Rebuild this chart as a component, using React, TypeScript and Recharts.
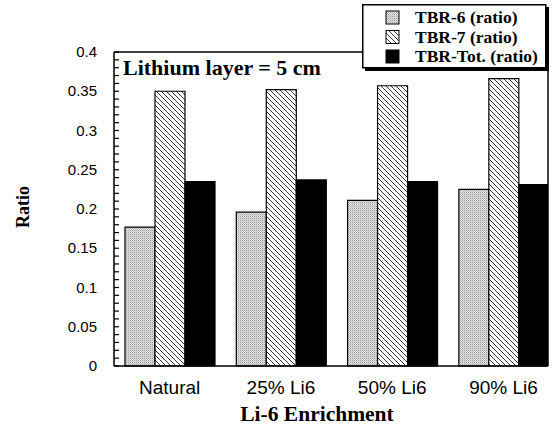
import React from "react";
import {
  BarChart,
  Bar,
  XAxis,
  YAxis,
  ReferenceLine,
  Legend,
} from "recharts";

// Li-6 enrichment cases
const categories = ["Natural", "25% Li6", "50% Li6", "90% Li6"];

// Tritium breeding ratios per case
const tbr6 = [0.177, 0.196, 0.211, 0.225];
const tbr7 = [0.35, 0.352, 0.357, 0.366];
const tbrTot = [0.235, 0.237, 0.235, 0.231];

// Labelled y ticks and grid positions
const yLabels = [0, 0.05, 0.1, 0.15, 0.2, 0.25, 0.3, 0.35, 0.4];
const yGrid = [0.05, 0.1, 0.15, 0.2, 0.25, 0.3, 0.35];
const xGrid = [0.5, 1.5, 2.5];

const seriesNames = ["TBR-6 (ratio)", "TBR-7 (ratio)", "TBR-Tot. (ratio)"];

const data = categories.map((name, i) => ({
  pos: i,
  name,
  tbr6: tbr6[i],
  tbr7: tbr7[i],
  tbrTot: tbrTot[i],
}));

// minor ticks every 0.01 between the labelled ones
const yTicks = Array.from({ length: 41 }, (_, i) => i / 100);

const W = 559;
const H = 429;
const MARGIN = { top: 52, right: 10, left: 0, bottom: 0 };
const Y_AXIS_W = 114;
const X_DOMAIN: [number, number] = [-0.5, 3.4];
const Y_DOMAIN: [number, number] = [0, 0.4];
const TICK_LEN = 5;
const SERIF = "'Liberation Serif', 'Times New Roman', serif";
const SANS = "'Liberation Sans', Arial, sans-serif";

const isMajor = (v: number) =>
  yLabels.some((l) => Math.abs(l - v) < 1e-6);

const fmt = (v: number) => String(+v.toFixed(2));

const Patterns = ({ suffix }: { suffix: string }) => (
  <defs>
    <pattern
      id={`dots${suffix}`}
      patternUnits="userSpaceOnUse"
      width="2"
      height="2"
    >
      <rect width="2" height="2" fill="#e4e4e4" />
      <rect x="0" y="0" width="1" height="1" fill="#9a9a9a" />
      <rect x="1" y="1" width="1" height="1" fill="#c4c4c4" />
    </pattern>
    <pattern
      id={`hatch${suffix}`}
      patternUnits="userSpaceOnUse"
      width="5"
      height="5"
    >
      <rect width="5" height="5" fill="#fff" />
      <path
        d="M-1,-1 L6,6 M4,-1 L6,1 M-1,4 L1,6"
        stroke="#222"
        strokeWidth="0.9"
      />
    </pattern>
  </defs>
);

// tick text for the labelled values only; x arrives at the frame edge
const YLabelTick = (props: any) => {
  const v = Number(props.payload.value);
  if (!isMajor(v)) return <g />;
  return (
    <text
      x={Number(props.x) - 17}
      y={Number(props.y)}
      dy={5}
      textAnchor="end"
      fontFamily={SANS}
      fontSize={15}
      fill="#000"
    >
      {fmt(v)}
    </text>
  );
};

const CategoryTick = (props: any) => {
  const { x, y, payload } = props;
  return (
    <text
      x={x}
      y={y}
      dy={26}
      textAnchor="middle"
      fontFamily={SANS}
      fontSize={19}
      fill="#000"
    >
      {categories[payload.value]}
    </text>
  );
};

const LegendBox = () => {
  const fills = ["url(#dotsL)", "url(#hatchL)", "#000"];
  return (
    <svg width={190} height={70} style={{ display: "block" }}>
      <Patterns suffix="L" />
      <rect x={3} y={3} width={184} height={64} fill="#000" />
      <rect
        x={0.75}
        y={0.75}
        width={183}
        height={63}
        fill="#fff"
        stroke="#000"
        strokeWidth={1.5}
      />
      {seriesNames.map((n, i) => (
        <g key={n}>
          <rect
            x={24}
            y={7 + i * 19.5}
            width={13}
            height={13}
            fill={fills[i]}
            stroke="#000"
            strokeWidth={1}
          />
          <text
            x={53}
            y={19 + i * 19.5}
            fontFamily={SERIF}
            fontWeight="bold"
            fontSize={17.5}
            fill="#000"
          >
            {n}
          </text>
        </g>
      ))}
    </svg>
  );
};

const gridStyle = {
  stroke: "#333",
  strokeWidth: 1.5,
  strokeDasharray: "2 1.5",
};

const frameTickLine = { stroke: "#000", strokeWidth: 1.2 };

export default function App() {
  return (
    <div
      style={{
        position: "absolute",
        left: 0,
        top: 0,
        width: W,
        height: H,
        background: "#fff",
      }}
    >
      <BarChart
        width={W}
        height={H}
        data={data}
        margin={MARGIN}
        barGap={0}
        barSize={30}
      >
        <Patterns suffix="B" />
        {yGrid.map((v) => (
          <ReferenceLine key={`gy${v}`} y={v} {...gridStyle} zIndex={-100} />
        ))}
        {xGrid.map((v) => (
          <ReferenceLine key={`gx${v}`} x={v} {...gridStyle} zIndex={-100} />
        ))}
        <XAxis
          dataKey="pos"
          type="number"
          domain={X_DOMAIN}
          allowDataOverflow
          ticks={[0, 1, 2, 3]}
          interval={0}
          height={63}
          tickLine={false}
          tickSize={0}
          tick={<CategoryTick />}
          axisLine={{ stroke: "#000", strokeWidth: 1.5 }}
          label={{
            content: ({ viewBox }: any) => (
              <text
                x={viewBox.x + viewBox.width / 2 - 14}
                y={viewBox.y + 55}
                textAnchor="middle"
                fontFamily={SERIF}
                fontWeight="bold"
                fontSize={21.5}
                fill="#000"
              >
                Li-6 Enrichment
              </text>
            ),
          }}
        />
        {/* left frame: negative tickSize turns the tick marks inward */}
        <YAxis
          yAxisId="left"
          domain={Y_DOMAIN}
          ticks={yTicks}
          interval={0}
          width={Y_AXIS_W}
          tickLine={frameTickLine}
          tickSize={-TICK_LEN}
          tickMargin={TICK_LEN}
          tick={<YLabelTick />}
          axisLine={{ stroke: "#000", strokeWidth: 1.5 }}
          label={{
            content: ({ viewBox }: any) => (
              <text
                x={0}
                y={0}
                transform={`translate(${viewBox.x + 29}, ${
                  viewBox.y + viewBox.height / 2 - 2
                }) rotate(-90)`}
                textAnchor="middle"
                fontFamily={SERIF}
                fontWeight="bold"
                fontSize={18}
                fill="#000"
              >
                Ratio
              </text>
            ),
          }}
        />
        {/* right frame with inward tick marks, no labels */}
        <YAxis
          yAxisId="right"
          orientation="right"
          domain={Y_DOMAIN}
          ticks={yTicks}
          interval={0}
          width={1}
          tickLine={frameTickLine}
          tickSize={-TICK_LEN}
          tickMargin={0}
          tick={() => <g />}
          axisLine={{ stroke: "#000", strokeWidth: 1.5 }}
        />
        {/* frame: top edge */}
        <ReferenceLine yAxisId="left" y={0.4} stroke="#000" strokeWidth={1.5} />
        <Legend
          layout="vertical"
          align="center"
          verticalAlign="middle"
          wrapperStyle={{
            position: "absolute",
            left: 362,
            top: 4,
            width: 190,
            height: 70,
          }}
          content={() => <LegendBox />}
        />
        <Bar
          yAxisId="left"
          dataKey="tbr6"
          name={seriesNames[0]}
          fill="url(#dotsB)"
          stroke="#000"
          strokeWidth={1.2}
          isAnimationActive={false}
        />
        <Bar
          yAxisId="left"
          dataKey="tbr7"
          name={seriesNames[1]}
          fill="url(#hatchB)"
          stroke="#000"
          strokeWidth={1.2}
          isAnimationActive={false}
        />
        <Bar
          yAxisId="left"
          dataKey="tbrTot"
          name={seriesNames[2]}
          fill="#000"
          stroke="#000"
          strokeWidth={1.2}
          isAnimationActive={false}
        />
      </BarChart>
      <svg
        width={W}
        height={H}
        style={{ position: "absolute", left: 0, top: 0, pointerEvents: "none" }}
      >
        <text
          x={123}
          y={75}
          fontFamily={SERIF}
          fontWeight="bold"
          fontSize={22}
          fill="#000"
        >
          Lithium layer = 5 cm
        </text>
      </svg>
    </div>
  );
}
